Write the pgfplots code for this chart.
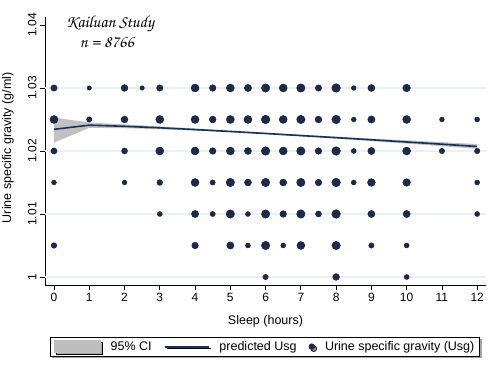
\documentclass[border=0pt]{standalone}
\usepackage{pgfplots}
\usepackage{pgfplotstable}
\pgfplotsset{compat=1.18}
\usepackage{fontspec}
\setmainfont{Liberation Sans}
\newfontfamily\chorus{TeX Gyre Chorus}
\usetikzlibrary{shadows}
\definecolor{dotfill}{RGB}{28,42,78}
\definecolor{dotline}{RGB}{15,25,50}
\definecolor{predline}{RGB}{18,52,92}
\definecolor{cigray}{RGB}{190,190,190}
\definecolor{gridc}{RGB}{232,240,244}

\pgfplotstableread{
x y r
0 1.03 3.2
1 1.03 2.2
2 1.03 3.4
2.5 1.03 2.2
3 1.03 3.2
4 1.03 4.0
4.5 1.03 3.3
5 1.03 4.0
5.5 1.03 3.6
6 1.03 4.2
6.5 1.03 4.0
7 1.03 4.2
7.5 1.03 3.2
8 1.03 4.3
8.5 1.03 2.3
9 1.03 3.5
10 1.03 3.8
0 1.025 4.0
1 1.025 2.7
2 1.025 3.4
3 1.025 4.0
4 1.025 4.0
4.5 1.025 3.4
5 1.025 4.0
5.5 1.025 4.0
6 1.025 4.3
6.5 1.025 4.0
7 1.025 4.2
7.5 1.025 3.4
8 1.025 4.3
8.5 1.025 2.4
9 1.025 3.6
10 1.025 4.0
11 1.025 2.4
12 1.025 2.5
0 1.02 3.1
2 1.02 3.0
3 1.02 4.0
4 1.02 4.0
4.5 1.02 3.3
5 1.02 4.0
5.5 1.02 3.5
6 1.02 4.3
6.5 1.02 4.0
7 1.02 4.2
7.5 1.02 3.3
8 1.02 4.3
8.5 1.02 2.5
9 1.02 3.6
10 1.02 4.0
11 1.02 2.7
12 1.02 2.7
0 1.015 2.4
2 1.015 2.4
3 1.015 2.9
4 1.015 4.0
4.5 1.015 2.6
5 1.015 4.2
5.5 1.015 3.5
6 1.015 4.2
6.5 1.015 3.5
7 1.015 4.2
7.5 1.015 3.3
8 1.015 4.3
8.5 1.015 2.5
9 1.015 3.9
10 1.015 3.8
12 1.015 2.5
3 1.01 2.5
4 1.01 3.6
4.5 1.01 2.6
5 1.01 4.2
5.5 1.01 2.5
6 1.01 4.2
6.5 1.01 3.3
7 1.01 4.2
7.5 1.01 3.0
8 1.01 4.3
9 1.01 3.6
10 1.01 3.6
12 1.01 2.5
0 1.005 2.8
4 1.005 3.3
5 1.005 3.6
5.5 1.005 2.5
6 1.005 4.2
6.5 1.005 2.5
7 1.005 4.0
8 1.005 4.2
9 1.005 2.7
10 1.005 2.5
6 1.0 2.7
8 1.0 3.4
10 1.0 2.5
}\dots

\pgfplotstableread{
x pred
0 1.02344
1 1.02410
2 1.02392
3 1.02368
4 1.02340
5 1.02310
6 1.02278
7 1.02245
8 1.02212
9 1.02178
10 1.02143
11 1.02108
12 1.02072
}\pred

\begin{document}
\begin{tikzpicture}[x=1pt,y=1pt]
\useasboundingbox (0,0) rectangle (490,374);
\begin{axis}[
  at={(45pt,89pt)}, anchor=south west,
  scale only axis, width=441pt, height=268pt,
  xmin=-0.255, xmax=12.25, ymin=0.99873, ymax=1.04127,
  axis lines*=left,
  axis line style={black, line width=0.8pt},
  xtick={0,1,2,3,4,5,6,7,8,9,10,11,12},
  ytick={1,1.01,1.02,1.03,1.04},
  yticklabels={1,1.01,1.02,1.03,1.04},
  scaled y ticks=false,
  tick align=outside, major tick length=5pt,
  tick style={black, line width=0.8pt},
  yticklabel style={rotate=90, anchor=south},
  ticklabel style={font=\fontsize{12}{14}\selectfont},
  /pgf/number format/assume math mode=true,
  extra y ticks={1,1.01,1.02,1.03},
  extra y tick labels={},
  extra y tick style={grid=major, major tick length=0pt},
  grid style={gridc, line width=1.5pt},
  xlabel={Sleep (hours)},
  ylabel={Urine specific gravity (g/ml)},
  every axis x label/.style={at={(axis description cs:0.5,-0.134)}, anchor=center, font=\fontsize{12.5}{14}\selectfont},
  every axis y label/.style={at={(axis description cs:-0.084,0.512)}, rotate=90, anchor=center, font=\fontsize{12.5}{14}\selectfont},
  legend style={at={(axis description cs:0.0113,-0.194)}, anchor=north west, draw=black, line width=0.8pt, fill=white,
    font=\fontsize{12.5}{14}\selectfont, legend columns=3, inner xsep=3.5pt, inner ysep=2pt,
    drop shadow={shadow xshift=2pt, shadow yshift=-2pt, fill=gray!70, opacity=1},
    /tikz/every even column/.append style={column sep=10pt},
    /tikz/every odd column/.append style={column sep=8pt}},
  legend cell align=left,
]
\addlegendimage{legend image code/.code={\fill[cigray] (0pt,-6pt) rectangle (46pt,6pt);}}
\addlegendimage{legend image code/.code={\draw[predline, line width=1.8pt] (0pt,0pt) -- (44pt,0pt);}}
\addlegendimage{legend image code/.code={\fill[dotfill] (3pt,0pt) circle (2.8pt);}}

\addplot[fill=cigray, draw=none, forget plot, fill opacity=0.95] coordinates {
(0,1.02530) (1,1.02452) (2,1.02422) (3,1.02390) (4,1.02356) (5,1.02322) (6,1.02289) (7,1.02257) (8,1.02227) (9,1.02198) (10,1.02169) (11,1.02140) (12,1.02110)
(12,1.02034) (11,1.02076) (10,1.02117) (9,1.02158) (8,1.02197) (7,1.02233) (6,1.02267) (5,1.02298) (4,1.02324) (3,1.02346) (2,1.02362) (1,1.02368) (0,1.02132)
} -- cycle;

\addplot[predline, line width=1.6pt, forget plot] table[x=x, y=pred] {\pred};

\addplot[scatter, only marks, mark=*, forget plot,
  point meta=\thisrow{r},
  visualization depends on={\thisrow{r} \as \rad},
  scatter/use mapped color={draw=dotline, fill=dotfill},
  scatter/@pre marker code/.append style={/tikz/mark size=\rad},
  mark options={line width=0.4pt}
] table[x=x, y=y] {\dots};

\legend{95\% CI, predicted Usg, Urine specific gravity (Usg)}
\end{axis}
\node[font=\chorus\fontsize{17}{17}\selectfont] at (110,350) {Kailuan Study};
\node[font=\chorus\fontsize{17}{17}\selectfont] at (107,332) {n = 8766};
\end{tikzpicture}
\end{document}
